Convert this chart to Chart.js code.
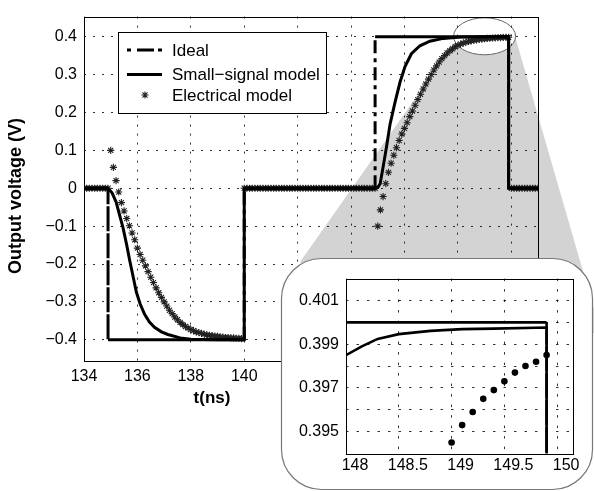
<!DOCTYPE html>
<html>
<head>
<meta charset="utf-8">
<script src="https://cdn.jsdelivr.net/npm/chart.js@4.4.0/dist/chart.umd.min.js"></script>
<style>
    html, body { margin: 0; padding: 0; background: #fff; }
    #wrap { position: relative; width: 594px; height: 491px; overflow: hidden; }
    #mainChart { position: absolute; left: 0; top: 0; }
    #insetChart { position: absolute; left: 290px; top: 262px; }
</style>
</head>
<body>
<div id="wrap">
    <canvas id="mainChart" width="594" height="491"></canvas>
    <canvas id="insetChart" width="300" height="225"></canvas>
</div>
<script>
const FONT = "'Liberation Sans', Arial, sans-serif";

// Axes
const xTicks = [134, 136, 138, 140, 142, 144, 146, 148, 150];
const xTickLabels = ['134', '136', '138', '140', '142', '144', '146', '148', '150'];
const yTicks = [-0.4, -0.3, -0.2, -0.1, 0, 0.1, 0.2, 0.3, 0.4];
const yTickLabels = ['−0.4', '−0.3', '−0.2', '−0.1', '0', '0.1', '0.2', '0.3', '0.4'];
const xTitle = 't(ns)';
const yTitle = 'Output voltage (V)';

// Zoom (inset) axes
const insetXTicks = [148, 148.5, 149, 149.5, 150];
const insetXTickLabels = ['148', '148.5', '149', '149.5', '150'];
const insetYTicks = [0.395, 0.396, 0.397, 0.398, 0.399, 0.400, 0.401];
const insetYTickLabels = ['0.395', '', '0.397', '', '0.399', '', '0.401'];

const seriesNames = ['Ideal', 'Small−signal model', 'Electrical model'];

// Ideal
const idealT = [134, 134.9, 134.9, 140.0, 140.0, 144.9, 144.9, 149.9, 149.9, 151];
const idealV = [0, 0, -0.4, -0.4, 0, 0, 0.4, 0.4, 0, 0];

// Small-signal model
const ssT = [134, 134.9, 135.05, 135.2, 135.33, 135.46, 135.6, 135.71, 135.85, 135.96,
             136.1, 136.27, 136.45, 136.64, 136.9, 137.14, 137.6, 138.0, 138.5, 139.0,
             140.0, 140.0, 144.9, 145.0, 145.09, 145.21, 145.33, 145.46, 145.65, 145.83,
             146.02, 146.26, 146.58, 146.95, 147.45, 148.0, 148.15, 148.3, 148.5, 148.8,
             149.1, 149.4, 149.9, 149.9, 151];
const ssV = [0, 0, -0.012, -0.036, -0.07, -0.104, -0.15, -0.19, -0.237, -0.274,
             -0.305, -0.333, -0.353, -0.367, -0.379, -0.386, -0.395, -0.3985, -0.3993, -0.3996,
             -0.3997, 0, 0, 0.002, 0.012, 0.06, 0.11, 0.169, 0.228, 0.279,
             0.321, 0.355, 0.376, 0.388, 0.3955, 0.3985, 0.3989, 0.39924, 0.39946, 0.39961,
             0.39969, 0.39971, 0.39976, 0, 0];

// Electrical model, sampled every 0.1 ns from 134.0 ns
const elecStart = 134.0;
const elecStep = 0.1;
const elecPre = [0, 0, 0, 0, 0, 0, 0, 0, 0, 0];
const elecFall = [
    0.100, 0.055, 0.020, -0.010, -0.038, -0.060, -0.080, -0.099, -0.118, -0.136,
    -0.158, -0.175, -0.190, -0.205, -0.220, -0.235, -0.249, -0.263, -0.276, -0.288,
    -0.300, -0.311, -0.322, -0.331, -0.340, -0.347, -0.354, -0.360, -0.365, -0.369,
    -0.373, -0.376, -0.379, -0.381, -0.383, -0.385, -0.387, -0.388, -0.389, -0.390,
    -0.391, -0.392, -0.393, -0.394, -0.394, -0.395, -0.395, -0.396, -0.396, -0.397
];
const elecMid = [
    0, 0, 0, 0, 0, 0, 0, 0, 0, 0,
    0, 0, 0, 0, 0, 0, 0, 0, 0, 0,
    0, 0, 0, 0, 0, 0, 0, 0, 0, 0,
    0, 0, 0, 0, 0, 0, 0, 0, 0, 0,
    0, 0, 0, 0, 0, 0, 0, 0, 0, 0
];
const elecRise = [
    -0.100, -0.057, -0.022, 0.012, 0.042, 0.066, 0.087, 0.107, 0.126, 0.143,
    0.158, 0.173, 0.189, 0.204, 0.219, 0.234, 0.248, 0.262, 0.275, 0.288,
    0.300, 0.312, 0.323, 0.333, 0.342, 0.350, 0.357, 0.363, 0.368, 0.3735,
    0.3772, 0.3803, 0.3830, 0.3853, 0.3873, 0.3890, 0.3904, 0.3917, 0.3928, 0.3937,
    0.3945, 0.3953, 0.3959, 0.3965, 0.3969, 0.3973, 0.3977, 0.3980, 0.3982, 0.3985
];
const elecPost = [0, 0, 0, 0, 0, 0, 0, 0, 0, 0, 0];

const elecV = elecPre.concat(elecFall, elecMid, elecRise, elecPost);
const elecT = elecV.map((v, i) => Math.round((elecStart + i * elecStep) * 10) / 10);

function toPoints(ts, vs) {
    return ts.map((t, i) => ({ x: t, y: vs[i] }));
}

// dash-dot only on the vertical edges of the ideal step
const verticalDash = dash => ctx => ctx.p0.parsed.x === ctx.p1.parsed.x ? dash : undefined;

function makeDatasets(inset) {
    const lw = inset ? 2.6 : 3;
    return [
        {
            label: seriesNames[0],
            data: toPoints(idealT, idealV),
            showLine: true,
            borderColor: '#000',
            borderWidth: lw,
            pointRadius: 0,
            segment: { borderDash: verticalDash([13, 5, 4, 5]) },
            order: 0
        },
        {
            label: seriesNames[1],
            data: toPoints(ssT, ssV),
            showLine: true,
            borderColor: '#000',
            borderWidth: lw,
            pointRadius: 0,
            order: 1
        },
        {
            label: seriesNames[2],
            data: toPoints(elecT, elecV),
            showLine: false,
            pointStyle: inset ? 'circle' : 'star',
            pointRadius: inset ? 3.3 : 3.6,
            borderColor: '#222',
            backgroundColor: '#000',
            borderWidth: inset ? 0 : 1.1,
            order: 2
        }
    ];
}

function roundBox(ctx, x, y, w, h, r) {
    ctx.beginPath();
    ctx.moveTo(x + r, y);
    ctx.arcTo(x + w, y, x + w, y + h, r);
    ctx.arcTo(x + w, y + h, x, y + h, r);
    ctx.arcTo(x, y + h, x, y, r);
    ctx.arcTo(x, y, x + w, y, r);
    ctx.closePath();
}

// Zoom wedge, ellipse, frame, legend, titles, inset box
const mainDecor = {
    id: 'mainDecor',
    beforeDraw(chart) {
        const { ctx, scales } = chart;
        const cx = scales.x.getPixelForValue(149.0);
        const cy = scales.y.getPixelForValue(0.401);
        const rx = 31, ry = 18.5;
        ctx.save();
        ctx.fillStyle = '#d3d3d3';
        ctx.beginPath();
        ctx.moveTo(cx - rx * 0.95, cy + ry * 0.3);
        ctx.lineTo(cx + rx, cy + 2);
        ctx.lineTo(600, 330);
        ctx.lineTo(420, 420);
        ctx.lineTo(300, 262);
        ctx.closePath();
        ctx.fill();
        ctx.beginPath();
        ctx.ellipse(cx, cy, rx, ry, 0, 0, Math.PI * 2);
        ctx.fillStyle = '#fff';
        ctx.fill();
        ctx.lineWidth = 1;
        ctx.strokeStyle = '#666';
        ctx.stroke();
        ctx.restore();
    },
    afterDraw(chart) {
        const { ctx, chartArea: a } = chart;
        ctx.save();
        // axes box
        ctx.strokeStyle = '#000';
        ctx.lineWidth = 1;
        ctx.strokeRect(Math.round(a.left) + 0.5, Math.round(a.top) + 0.5,
                       Math.round(a.right - a.left), Math.round(a.bottom - a.top));

        // axis titles
        ctx.fillStyle = '#000';
        ctx.textAlign = 'center';
        ctx.textBaseline = 'middle';
        ctx.font = 'bold 17px ' + FONT;
        ctx.fillText(xTitle, 212, 398);
        ctx.save();
        ctx.translate(16, 196);
        ctx.rotate(-Math.PI / 2);
        ctx.font = 'bold 18px ' + FONT;
        ctx.fillText(yTitle, 0, 0);
        ctx.restore();

        // legend
        ctx.fillStyle = '#fff';
        ctx.fillRect(118.5, 32.5, 208, 81);
        ctx.strokeRect(118.5, 32.5, 208, 81);
        const rows = [50, 74.5, 95];
        ctx.strokeStyle = '#000';
        ctx.lineWidth = 3;
        ctx.setLineDash([4, 6, 17, 4]);
        ctx.beginPath();
        ctx.moveTo(127, rows[0]);
        ctx.lineTo(162, rows[0]);
        ctx.stroke();
        ctx.setLineDash([]);
        ctx.beginPath();
        ctx.moveTo(127, rows[1]);
        ctx.lineTo(162, rows[1]);
        ctx.stroke();
        ctx.lineWidth = 1.1;
        ctx.strokeStyle = '#222';
        Chart.helpers.drawPoint(ctx, { pointStyle: 'star', radius: 3.6, borderWidth: 1.1 }, 145, rows[2]);
        ctx.fillStyle = '#000';
        ctx.textAlign = 'left';
        ctx.font = '17px ' + FONT;
        chart.data.datasets.forEach((ds, i) => ctx.fillText(ds.label, 172, rows[i] + 1));

        // inset frame
        roundBox(ctx, 281.5, 258.5, 311, 231, 40);
        ctx.fillStyle = '#fff';
        ctx.fill();
        ctx.strokeStyle = '#777';
        ctx.lineWidth = 1.2;
        ctx.stroke();
        ctx.restore();
    }
};

const frameBox = {
    id: 'frameBox',
    afterDraw(chart) {
        const { ctx, chartArea: a } = chart;
        ctx.save();
        ctx.strokeStyle = '#000';
        ctx.lineWidth = 1;
        ctx.strokeRect(Math.round(a.left) + 0.5, Math.round(a.top) + 0.5,
                       Math.round(a.right - a.left), Math.round(a.bottom - a.top));
        ctx.restore();
    }
};

const tickFont = { family: FONT, size: 16 };
const gridOpts = { color: 'rgba(0,0,0,0.8)', lineWidth: 1, drawTicks: false };

const mainChart = new Chart(document.getElementById('mainChart'), {
    type: 'scatter',
    data: { datasets: makeDatasets(false) },
    options: {
        responsive: false,
        animation: false,
        devicePixelRatio: 1,
        layout: { padding: { top: 3, right: 56, bottom: 90, left: 0 } },
        plugins: { legend: { display: false }, tooltip: { enabled: false } },
        scales: {
            x: {
                type: 'linear',
                min: 134,
                max: 151,
                afterBuildTicks: s => { s.ticks = xTicks.map(v => ({ value: v })); },
                afterFit: s => { s.height = 40; },
                ticks: {
                    callback: (v, i) => xTickLabels[i],
                    color: '#000',
                    font: tickFont,
                    padding: 6,
                    maxRotation: 0,
                    autoSkip: false
                },
                grid: gridOpts,
                border: { display: false, dash: [2, 7] }
            },
            y: {
                type: 'linear',
                min: -0.456,
                max: 0.453,
                afterBuildTicks: s => { s.ticks = yTicks.map(v => ({ value: v })); },
                afterFit: s => { s.width = 84; },
                ticks: {
                    callback: (v, i) => yTickLabels[i],
                    color: '#000',
                    font: tickFont,
                    padding: 7,
                    autoSkip: false
                },
                grid: gridOpts,
                border: { display: false, dash: [2, 7] }
            }
        }
    },
    plugins: [mainDecor]
});

const insetChart = new Chart(document.getElementById('insetChart'), {
    type: 'scatter',
    data: { datasets: makeDatasets(true) },
    options: {
        responsive: false,
        animation: false,
        devicePixelRatio: 1,
        layout: { padding: { top: 12, right: 17, bottom: 3.5, left: 0 } },
        plugins: { legend: { display: false }, tooltip: { enabled: false } },
        scales: {
            x: {
                type: 'linear',
                min: 148,
                max: 150.15,
                afterBuildTicks: s => { s.ticks = insetXTicks.map(v => ({ value: v })); },
                afterFit: s => { s.height = 30; },
                ticks: {
                    callback: (v, i) => insetXTickLabels[i],
                    color: '#000',
                    font: tickFont,
                    padding: 2,
                    labelOffset: 9,
                    maxRotation: 0,
                    autoSkip: false
                },
                grid: gridOpts,
                border: { display: false, dash: [2.5, 8] }
            },
            y: {
                type: 'linear',
                min: 0.394,
                max: 0.402,
                afterBuildTicks: s => { s.ticks = insetYTicks.map(v => ({ value: v })); },
                afterFit: s => { s.width = 56; },
                ticks: {
                    callback: (v, i) => insetYTickLabels[i],
                    color: '#000',
                    font: tickFont,
                    padding: 7,
                    autoSkip: false
                },
                grid: gridOpts,
                border: { display: false, dash: [2.5, 8] }
            }
        }
    },
    plugins: [frameBox]
});
</script>
</body>
</html>
